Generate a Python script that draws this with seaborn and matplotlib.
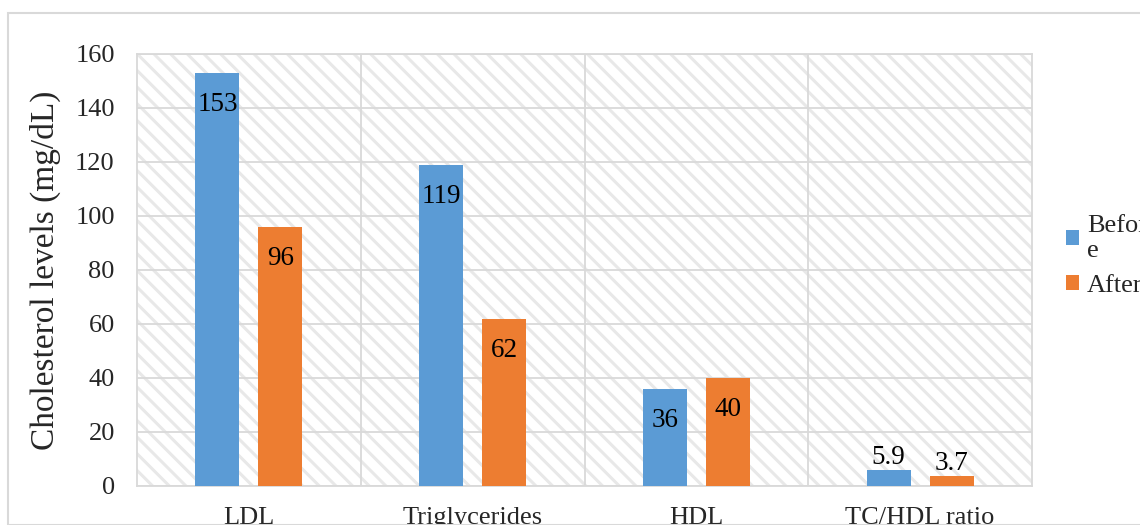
import textwrap
import matplotlib
matplotlib.use("Agg")
import matplotlib.pyplot as plt
from matplotlib.patches import Rectangle
import pandas as pd
import seaborn as sns

# Lipid profile before and after the intervention
markers = ["LDL", "Triglycerides", "HDL", "TC/HDL ratio"]
periods = ["Before", "After"]
before_vals = [153, 119, 36, 5.9]
after_vals = [96, 62, 40, 3.7]
y_ticks = [0, 20, 40, 60, 80, 100, 120, 140, 160]
y_label = "Cholesterol levels (mg/dL)"

colors = ["#5B9BD5", "#ED7D31"]
grid_color = "#D9D9D9"

df = pd.DataFrame({
    "marker": markers * 2,
    "period": [periods[0]] * len(markers) + [periods[1]] * len(markers),
    "value": before_vals + after_vals,
})

sns.set_theme(style="white")
plt.rcParams["font.family"] = ["Liberation Serif", "DejaVu Serif"]
plt.rcParams["hatch.linewidth"] = 2.2

fig = plt.figure(figsize=(11.4, 5.25), dpi=100)
ax = fig.add_axes([137 / 1140, 1 - 486 / 525, (1032 - 137) / 1140, (486 - 54) / 525])

# light diagonal hatching behind the plot area
ax.patch.set_facecolor("white")
bg = Rectangle((0, 0), 1, 1, transform=ax.transAxes, facecolor="white",
               edgecolor="#E8E8E8", hatch="\\\\", linewidth=0, zorder=0)
ax.add_patch(bg)

sns.barplot(data=df, x="marker", y="value", hue="period", order=markers,
            hue_order=periods, palette=colors, saturation=1, width=0.562,
            gap=0.30, ax=ax, legend=False, zorder=3, linewidth=0)

ax.set_ylim(0, 160)
ax.set_yticks(y_ticks)
ax.set_xlim(-0.5, len(markers) - 0.5)
ax.set_xlabel("")
ax.set_ylabel(y_label, fontsize=24, labelpad=10)

# gridlines: horizontal at each tick, vertical between categories
ax.set_xticks([i + 0.5 for i in range(len(markers) - 1)], minor=True)
ax.grid(True, which="major", axis="y", color=grid_color, linewidth=1.3, zorder=1)
ax.grid(True, which="minor", axis="x", color=grid_color, linewidth=1.3, zorder=1)
ax.set_axisbelow(True)
for s in ax.spines.values():
    s.set_visible(True)
    s.set_color(grid_color)
    s.set_linewidth(1.3)

ax.tick_params(axis="y", which="both", length=0, pad=16, labelsize=19)
ax.tick_params(axis="x", which="both", length=0, pad=15, labelsize=19)

# value labels: inside the top of tall bars, above short ones
for cont, vals in zip(ax.containers, [before_vals, after_vals]):
    for rect, v in zip(cont, vals):
        cx = rect.get_x() + rect.get_width() / 2
        txt = f"{v:g}"
        if v > 20:
            ax.annotate(txt, (cx, v), xytext=(0, -14), textcoords="offset points",
                        ha="center", va="top", fontsize=19.5, color="black", zorder=5)
        else:
            ax.annotate(txt, (cx, v), xytext=(0, 0), textcoords="offset points",
                        ha="center", va="bottom", fontsize=19.5, color="black", zorder=5)

# legend with Excel-style wrapped entries
handles = [Rectangle((0, 0), 1, 1, facecolor=c, edgecolor="none") for c in colors]
labels = [textwrap.fill(p, 5) for p in periods]
fig.legend(handles, labels, loc="center left", bbox_to_anchor=(1066 / 1140, 1 - 256 / 525),
           frameon=False, fontsize=19, handlelength=0.5, handleheight=0.5,
           handletextpad=0.3, labelspacing=0.5, borderaxespad=0, borderpad=0)

# outer chart border
fig.patches.append(Rectangle((8 / 1140, 0), 1, 1 - 13 / 525, transform=fig.transFigure,
                             fill=False, edgecolor=grid_color, linewidth=1.5))

fig.savefig("out.png", dpi=100)
